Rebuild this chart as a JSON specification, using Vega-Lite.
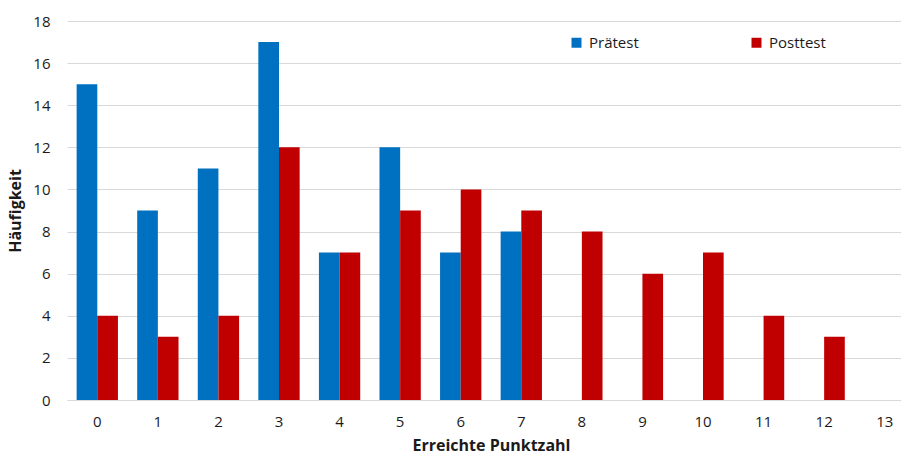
{
  "$schema": "https://vega.github.io/schema/vega-lite/v6.json",
  "autosize": {"type": "none"},
  "width": 834,
  "height": 379,
  "padding": {"left": 67, "top": 21, "right": 0, "bottom": 56},
  "background": "white",
  "config": {
    "font": "Open Sans",
    "view": {"stroke": null},
    "axis": {"labelFont": "Open Sans", "titleFont": "Open Sans", "labelColor": "#1a1a1a", "titleColor": "#1a1a1a"},
    "legend": {"labelFont": "Open Sans"}
  },
  "data": {
    "values": [
      {"Punktzahl": 0, "Test": "Prätest", "Anzahl": 15},
      {"Punktzahl": 1, "Test": "Prätest", "Anzahl": 9},
      {"Punktzahl": 2, "Test": "Prätest", "Anzahl": 11},
      {"Punktzahl": 3, "Test": "Prätest", "Anzahl": 17},
      {"Punktzahl": 4, "Test": "Prätest", "Anzahl": 7},
      {"Punktzahl": 5, "Test": "Prätest", "Anzahl": 12},
      {"Punktzahl": 6, "Test": "Prätest", "Anzahl": 7},
      {"Punktzahl": 7, "Test": "Prätest", "Anzahl": 8},
      {"Punktzahl": 8, "Test": "Prätest", "Anzahl": 0},
      {"Punktzahl": 9, "Test": "Prätest", "Anzahl": 0},
      {"Punktzahl": 10, "Test": "Prätest", "Anzahl": 0},
      {"Punktzahl": 11, "Test": "Prätest", "Anzahl": 0},
      {"Punktzahl": 12, "Test": "Prätest", "Anzahl": 0},
      {"Punktzahl": 13, "Test": "Prätest", "Anzahl": 0},
      {"Punktzahl": 0, "Test": "Posttest", "Anzahl": 4},
      {"Punktzahl": 1, "Test": "Posttest", "Anzahl": 3},
      {"Punktzahl": 2, "Test": "Posttest", "Anzahl": 4},
      {"Punktzahl": 3, "Test": "Posttest", "Anzahl": 12},
      {"Punktzahl": 4, "Test": "Posttest", "Anzahl": 7},
      {"Punktzahl": 5, "Test": "Posttest", "Anzahl": 9},
      {"Punktzahl": 6, "Test": "Posttest", "Anzahl": 10},
      {"Punktzahl": 7, "Test": "Posttest", "Anzahl": 9},
      {"Punktzahl": 8, "Test": "Posttest", "Anzahl": 8},
      {"Punktzahl": 9, "Test": "Posttest", "Anzahl": 6},
      {"Punktzahl": 10, "Test": "Posttest", "Anzahl": 7},
      {"Punktzahl": 11, "Test": "Posttest", "Anzahl": 4},
      {"Punktzahl": 12, "Test": "Posttest", "Anzahl": 3},
      {"Punktzahl": 13, "Test": "Posttest", "Anzahl": 0}
    ]
  },
  "mark": {"type": "bar"},
  "encoding": {
    "x": {
      "field": "Punktzahl",
      "type": "ordinal",
      "scale": {"paddingInner": 0.318, "paddingOuter": 0.159, "range": [0, 848]},
      "axis": {
        "title": "Erreichte Punktzahl",
        "titleFontSize": 16,
        "titleFontWeight": "bold",
        "titlePadding": 8,
        "labelAngle": 0,
        "labelFontSize": 15,
        "labelPadding": 14,
        "ticks": false,
        "domainColor": "#d9d9d9",
        "domainWidth": 1
      }
    },
    "xOffset": {
      "field": "Test",
      "type": "nominal",
      "sort": ["Prätest", "Posttest"],
      "scale": {"paddingInner": 0, "paddingOuter": 0}
    },
    "y": {
      "field": "Anzahl",
      "type": "quantitative",
      "scale": {"domain": [0, 18], "nice": false},
      "axis": {
        "title": "Häufigkeit",
        "titleFontSize": 16,
        "titleFontWeight": "bold",
        "titlePadding": 9,
        "values": [0, 2, 4, 6, 8, 10, 12, 14, 16, 18],
        "labelFontSize": 15,
        "labelPadding": 17,
        "ticks": false,
        "domain": false,
        "gridColor": "#d9d9d9",
        "gridWidth": 1
      }
    },
    "color": {
      "field": "Test",
      "type": "nominal",
      "sort": ["Prätest", "Posttest"],
      "scale": {"domain": ["Prätest", "Posttest"], "range": ["#0070C0", "#C00000"]},
      "legend": {
        "title": null,
        "orient": "none",
        "direction": "horizontal",
        "legendX": 502,
        "legendY": 14,
        "symbolType": "square",
        "symbolSize": 100,
        "symbolStrokeWidth": 0,
        "labelFontSize": 15,
        "labelOffset": 5,
        "labelColor": "#1a1a1a",
        "columnPadding": 110
      }
    }
  }
}
